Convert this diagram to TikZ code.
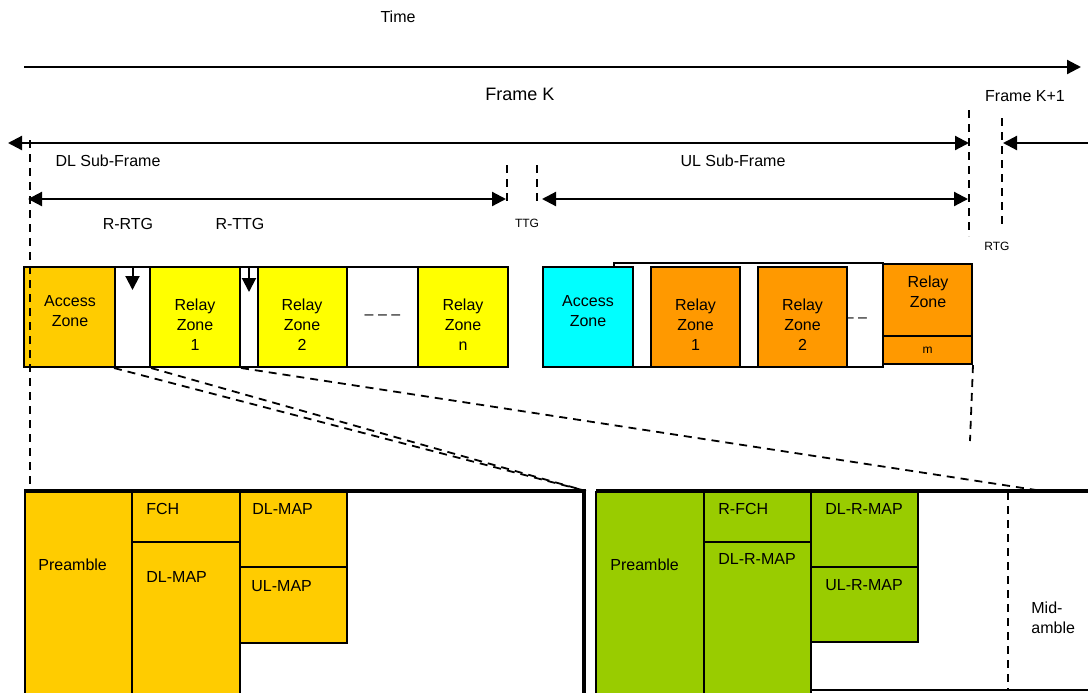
\documentclass[tikz,border=0pt]{standalone}
\usepackage{fontspec}
\setmainfont{Liberation Sans}
\usetikzlibrary{arrows.meta}
\definecolor{accdl}{HTML}{FFCC00}
\definecolor{relaydl}{HTML}{FFFF00}
\definecolor{accul}{HTML}{00FFFF}
\definecolor{relayul}{HTML}{FF9900}
\definecolor{relayr}{HTML}{99CC00}

\begin{document}
\begin{tikzpicture}[x=0.5pt,y=-0.5pt,>={Triangle[length=7pt,width=7pt]},font=\fontsize{8}{10}\selectfont,
  zone/.style={draw,line width=1pt,minimum height=50pt,inner sep=0pt},
  guide/.style={dash pattern=on 4pt off 3pt,line width=0.9pt},
  span/.style={line width=1.1pt},
  blk/.style={draw,line width=1pt},
  txt/.style={anchor=west,inner sep=0pt},
  ztxt/.style={align=center,inner sep=0pt},
  small/.style={font=\fontsize{6}{7}\selectfont}]
  \clip (0,0) rectangle (1088,692);
  \node (time)   at (398, 17)  {Time};
  \node[font=\fontsize{9}{11}\selectfont] (fk) at (520, 94) {Frame K};
  \node (fk1)    at (1025, 96) {Frame K+1};
  \node (dlsub)  at (108, 161) {DL Sub-Frame};
  \node (ulsub)  at (733, 161) {UL Sub-Frame};
  \node (rrtg)   at (128, 224) {R-RTG};
  \node (rttg)   at (240, 224) {R-TTG};
  \node[small] (ttg) at (527, 223) {TTG};
  \node[small] (rtg) at (997, 246) {RTG};
  \coordinate (t0)  at (24, 67);   \coordinate (t1)  at (1081, 67);
  \coordinate (f0)  at (8, 143);   \coordinate (f1)  at (969, 143);
  \coordinate (n0)  at (1090, 143); \coordinate (n1) at (1003, 143);
  \coordinate (d0)  at (28, 199);  \coordinate (d1)  at (506, 199);
  \coordinate (u0)  at (542, 199); \coordinate (u1)  at (968, 199);
  \path[->,span]  (t0) edge (t1);
  \path[<->,span] (f0) edge (f1);
  \path[->,span]  (n0) edge (n1);
  \path[<->,span] (d0) edge (d1);
  \path[<->,span] (u0) edge (u1);
  \draw[guide] (507,165) -- (507,204);
  \draw[guide] (537,165) -- (537,204);
  \draw[guide] (969,110) -- (969,236);
  \draw[guide] (1002,118) -- (1002,224);

  \node[zone,fill=accdl,minimum width=45.5pt]   (dacc)  at (69.5, 317)  {};
  \node[zone,minimum width=17.5pt]              (dg1)   at (132.5, 317) {};
  \node[zone,fill=relaydl,minimum width=45pt]   (dr1)   at (195, 317)   {};
  \node[zone,minimum width=9pt]                 (dg2)   at (249, 317)   {};
  \node[zone,fill=relaydl,minimum width=44.5pt] (dr2)   at (302.5, 317) {};
  \node[zone,minimum width=35.5pt]              (ddots) at (382.5, 317) {\textendash\ \textendash\ \textendash};
  \node[zone,fill=relaydl,minimum width=45pt]   (drn)   at (463, 317)   {};
  \node[ztxt] (dacct) at (70, 311)  {Access\\Zone};
  \node[ztxt] (dr1t)  at (195, 325) {Relay\\Zone\\1};
  \node[ztxt] (dr2t)  at (302, 325) {Relay\\Zone\\2};
  \node[ztxt] (drnt)  at (463, 325) {Relay\\Zone\\n};
  \draw[->,line width=1pt] (dg1.north) -- ++(0,24);
  \draw[->,line width=1pt] (dg2.north) -- ++(0,26);

  \node[zone,fill=white,minimum width=134.5pt,minimum height=52pt] (uframe) at (748.5, 315) {};
  \node[zone,fill=accul,minimum width=45pt]     (uacc)  at (588, 317)   {};
  \node                                         (udots) at (856, 320)   {\textendash\ \textendash};
  \node[zone,fill=relayul,minimum width=44.5pt] (ur1)   at (695.5, 317) {};
  \node[zone,fill=relayul,minimum width=44.5pt] (ur2)   at (802.5, 317) {};
  \node[zone,fill=relayul,minimum width=44.5pt,minimum height=36pt] (urm) at (927.5, 300) {};
  \node[zone,fill=relayul,minimum width=44.5pt,minimum height=14pt,small] (urmm) at (927.5, 350) {m};
  \node[ztxt] (uacct) at (588, 311)   {Access\\Zone};
  \node[ztxt] (ur1t)  at (695.5, 325) {Relay\\Zone\\1};
  \node[ztxt] (ur2t)  at (802.5, 325) {Relay\\Zone\\2};
  \node[ztxt] (urmt)  at (928, 292)   {Relay\\Zone};
  \draw[guide] (urmm.south east) -- ++(-3,76);

  \draw[line width=1.6pt] (24,491) -- (584,491) -- (584,700);
  \path[blk,fill=accdl] (25,492) rectangle (132,700);
  \path[blk,fill=accdl] (132,492) rectangle (240,542);
  \path[blk,fill=accdl] (132,542) rectangle (240,700);
  \path[blk,fill=accdl] (240,492) rectangle (347,567);
  \path[blk,fill=accdl] (240,567) rectangle (347,643);
  \node[txt] (pre)   at (38, 565)  {Preamble};
  \node[txt] (fch)   at (146, 509) {FCH};
  \node[txt] (dlm)   at (146, 577) {DL-MAP};
  \node[txt] (dlm2)  at (252, 509) {DL-MAP};
  \node[txt] (ulm)   at (251, 586) {UL-MAP};

  \draw[line width=1.6pt] (1092,491) -- (596,491);
  \draw[line width=1.2pt] (596,690) -- (1092,690);
  \path[blk,fill=relayr] (596,492) rectangle (704,700);
  \path[blk,fill=relayr] (704,492) rectangle (811,542);
  \path[blk,fill=relayr] (704,542) rectangle (811,700);
  \path[blk,fill=relayr] (811,492) rectangle (918,567);
  \path[blk,fill=relayr] (811,567) rectangle (918,642);
  \draw[guide] (1008,492) -- (1008,690);
  \node[txt] (rpre)  at (610, 565) {Preamble};
  \node[txt] (rfch)  at (718, 509) {R-FCH};
  \node[txt] (rdlm)  at (718, 559) {DL-R-MAP};
  \node[txt] (rdlm2) at (825, 509) {DL-R-MAP};
  \node[txt] (rulm)  at (825, 585) {UL-R-MAP};
  \node[txt,align=left] (mid) at (1031, 618) {Mid-\\amble};

  \coordinate (dlc) at (586, 491);
  \coordinate (ulc) at (1036, 490);
  \draw[guide] (30,140) -- (30,491);
  \draw[guide] (dg1.south west) -- (dlc);
  \draw[guide] (dg1.south east) -- (dlc);
  \draw[guide] (dr1.south east) -- (ulc);
\end{tikzpicture}
\end{document}
